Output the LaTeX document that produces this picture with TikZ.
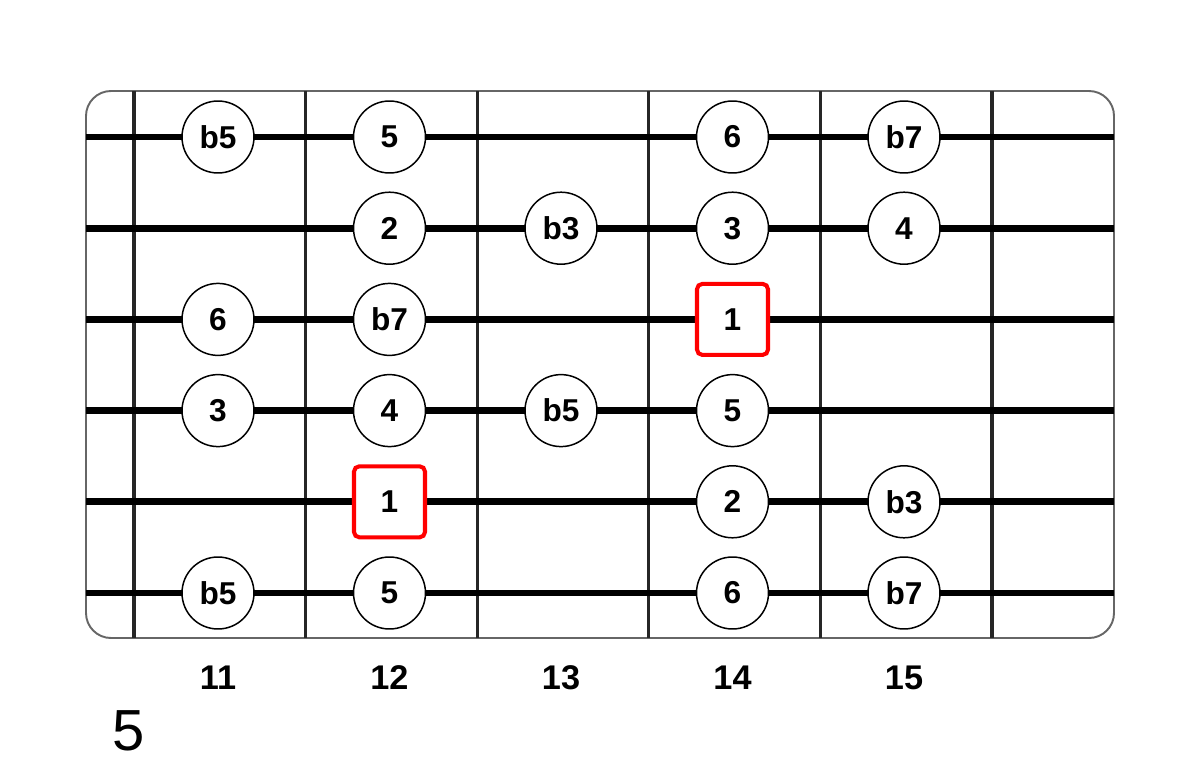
\documentclass[tikz,border=0pt]{standalone}
\usepackage{fontspec}
\setmainfont{Liberation Sans}
\usetikzlibrary{positioning}

\tikzset{
  note/.style={circle, draw=black, line width=0.85pt, fill=white, minimum size=1.44cm, inner sep=0pt, font=\fontsize{18}{18}\selectfont\bfseries},
  root/.style={rectangle, rounded corners=3pt, draw=red, line width=2.3pt, fill=white, minimum size=1.42cm, inner sep=0pt, font=\fontsize{18}{18}\selectfont\bfseries},
  fretnum/.style={font=\fontsize{19.5}{19.5}\selectfont\bfseries, anchor=base},
  guitarstring/.style={black, line width=3.9pt},
  fretline/.style={black!85, line width=1.9pt},
  board/.style={draw=black!60, line width=1.1pt, rounded corners=0.5cm}
}

\begin{document}
\begin{tikzpicture}[x=0.02cm, y=-0.02cm]
\useasboundingbox (0,0) rectangle (1200,774);

% board outline
\draw [board] (86,91) rectangle (1114,638);

% frets
\foreach \i in {0,...,5}
  \draw [fretline] ({134+\i*171.6},91) -- ({134+\i*171.6},638);

% strings
\foreach \s in {1,...,6}
  \draw [guitarstring] (86,{137+(\s-1)*91.2}) -- (1114,{137+(\s-1)*91.2});

% scale notes
\foreach \s/\f/\t in {1/11/b5, 1/12/5, 1/14/6, 1/15/b7,
                      2/12/2, 2/13/b3, 2/14/3, 2/15/4,
                      3/11/6, 3/12/b7,
                      4/11/3, 4/12/4, 4/13/b5, 4/14/5,
                      5/14/2, 5/15/b3,
                      6/11/b5, 6/12/5, 6/14/6, 6/15/b7}
  \node [note] (n\s-\f) at ({218+(\f-11)*171.5},{137+(\s-1)*91.2}) {\t};

% roots
\node [root] (n3-14) at ({218+3*171.5},{137+2*91.2}) {1};
\node [root] (n5-12) at ({218+1*171.5},{137+4*91.2}) {1};

% fret numbers
\foreach \f in {11,...,15}
  \node [fretnum] (fnum\f) at ({218+(\f-11)*171.5},689) {\f};

\node [font=\fontsize{33}{33}\selectfont, anchor=west] (pos) at (106,731) {5};

\end{tikzpicture}
\end{document}
